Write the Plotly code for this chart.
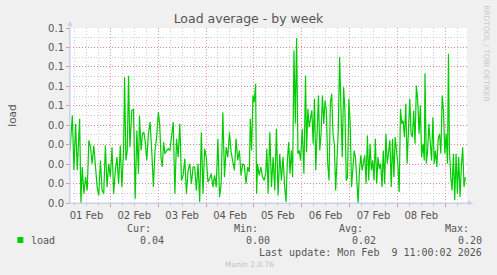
import pandas as pd
import plotly.graph_objects as go

# ---- data (minutes since 2026-02-01 00:00, load average) ----
minutes = [225, 295, 344, 394, 444, 514, 554, 593, 643, 693, 743, 793, 842, 892, 942, 992,
           1042, 1091, 1141, 1191, 1241, 1290, 1340, 1390, 1440, 1490, 1539, 1589, 1639, 1689,
           1739, 1788, 1838, 1868, 1908, 1948, 1988, 2027, 2087, 2137, 2187, 2237, 2286, 2316,
           2366, 2406, 2446, 2486, 2535, 2585, 2635, 2685, 2735, 2784, 2834, 2884, 2924, 2964,
           3003, 3043, 3083, 3133, 3183, 3232, 3282, 3332, 3382, 3432, 3481, 3531, 3581, 3631,
           3681, 3730, 3780, 3830, 3880, 3930, 3979, 4029, 4079, 4129, 4179, 4228, 4278, 4328,
           4378, 4428, 4477, 4527, 4577, 4627, 4677, 4726, 4776, 4826, 4876, 4925, 4975, 5025,
           5075, 5125, 5175, 5224, 5274, 5324, 5374, 5424, 5473, 5523, 5573, 5623, 5653, 5692,
           5732, 5772, 5812, 5842, 5872, 5921, 5971, 6021, 6071, 6121, 6150, 6190, 6240, 6290,
           6340, 6390, 6439, 6489, 6539, 6589, 6638, 6688, 6728, 6768, 6808, 6848, 6888, 6927,
           6967, 7007, 7047, 7087, 7126, 7166, 7216, 7266, 7316, 7346, 7385, 7425, 7465, 7505,
           7545, 7585, 7624, 7664, 7704, 7744, 7784, 7824, 7863, 7903, 7943, 7983, 8023, 8063,
           8102, 8142, 8182, 8222, 8262, 8302, 8341, 8381, 8421, 8461, 8501, 8541, 8580, 8620,
           8660, 8700, 8740, 8780, 8819, 8859, 8899, 8939, 8979, 9019, 9058, 9098, 9138, 9178,
           9218, 9258, 9297, 9337, 9377, 9417, 9457, 9497, 9536, 9576, 9616, 9656, 9696, 9736,
           9775, 9815, 9855, 9895, 9935, 9975, 10014, 10054, 10094, 10134, 10174, 10214, 10253,
           10293, 10333, 10373, 10413, 10453, 10493, 10532, 10572, 10612, 10652, 10692, 10732,
           10771, 10811, 10851, 10891, 10911, 10951, 10990, 11030, 11070, 11110, 11150, 11190,
           11229, 11269, 11309, 11349, 11389, 11429, 11468, 11508, 11548, 11588, 11618, 11648,
           11688, 11727, 11767, 11807, 11847, 11887, 11927, 11966, 12006, 12046, 12086, 12126]

load = [0.0270, 0.0450, 0.0168, 0.0407, 0.0168, 0.0433, 0.0000, 0.0185, 0.0048, 0.0133,
        0.0065, 0.0322, 0.0287, 0.0202, 0.0296, 0.0168, 0.0082, 0.0039, 0.0219, 0.0065,
        0.0048, 0.0296, 0.0082, 0.0202, 0.0133, 0.0287, 0.0048, 0.0168, 0.0236, 0.0099,
        0.0296, 0.0082, 0.0270, 0.0647, 0.0219, 0.0270, 0.0655, 0.0287, 0.0476, 0.0484,
        0.0022, 0.0373, 0.0151, 0.0450, 0.0270, 0.0356, 0.0364, 0.0322, 0.0219, 0.0356,
        0.0416, 0.0270, 0.0082, 0.0270, 0.0339, 0.0467, 0.0407, 0.0236, 0.0185, 0.0313,
        0.0253, 0.0270, 0.0279, 0.0270, 0.0356, 0.0416, 0.0048, 0.0330, 0.0236, 0.0407,
        0.0116, 0.0142, 0.0228, 0.0048, 0.0168, 0.0202, 0.0099, 0.0185, 0.0185, 0.0065,
        0.0202, 0.0005, 0.0364, 0.0048, 0.0279, 0.0236, 0.0108, 0.0125, 0.0151, 0.0082,
        0.0142, 0.0082, 0.0330, 0.0031, 0.0099, 0.0467, 0.0133, 0.0287, 0.0236, 0.0364,
        0.0262, 0.0202, 0.0168, 0.0330, 0.0219, 0.0270, 0.0142, 0.0202, 0.0193, 0.0099,
        0.0185, 0.0159, 0.0433, 0.0270, 0.0553, 0.0518, 0.0613, 0.0048, 0.0202, 0.0142,
        0.0185, 0.0133, 0.0116, 0.0159, 0.0279, 0.0048, 0.0364, 0.0082, 0.0236, 0.0065,
        0.0382, 0.0039, 0.0253, 0.0116, 0.0236, 0.0082, 0.0005, 0.0219, 0.0313, 0.0151,
        0.0270, 0.0133, 0.0784, 0.0407, 0.0849, 0.0253, 0.0270, 0.0219, 0.0382, 0.0151,
        0.0655, 0.0262, 0.0484, 0.0390, 0.0441, 0.0476, 0.0305, 0.0536, 0.0168, 0.0373,
        0.0553, 0.0270, 0.0356, 0.0553, 0.0407, 0.0527, 0.0476, 0.0202, 0.0116, 0.0518,
        0.0561, 0.0356, 0.0305, 0.0065, 0.0202, 0.0373, 0.0749, 0.0407, 0.0236, 0.0595,
        0.0476, 0.0116, 0.0133, 0.0536, 0.0407, 0.0082, 0.0168, 0.0270, 0.0236, 0.0116,
        0.0000, 0.0168, 0.0245, 0.0168, 0.0219, 0.0245, 0.0099, 0.0347, 0.0116, 0.0305,
        0.0168, 0.0219, 0.0116, 0.0330, 0.0099, 0.0236, 0.0176, 0.0202, 0.0082, 0.0270,
        0.0099, 0.0356, 0.0202, 0.0253, 0.0322, 0.0082, 0.0330, 0.0133, 0.0339, 0.0270,
        0.0202, 0.0056, 0.0484, 0.0407, 0.0424, 0.0339, 0.0510, 0.0202, 0.0390, 0.0536,
        0.0356, 0.0339, 0.0476, 0.0305, 0.0604, 0.0527, 0.0356, 0.0501, 0.0236, 0.0305,
        0.0219, 0.0667, 0.0202, 0.0270, 0.0407, 0.0305, 0.0219, 0.0441, 0.0202, 0.0270,
        0.0185, 0.0330, 0.0356, 0.0253, 0.0553, 0.0476, 0.0253, 0.0356, 0.0202, 0.0767,
        0.0270, 0.0133, 0.0065, 0.0253, 0.0014, 0.0253, 0.0048, 0.0236, 0.0031, 0.0185,
        0.0287, 0.0082, 0.0133]

y_ticks = [0.00, 0.01, 0.02, 0.03, 0.04, 0.05, 0.06, 0.07, 0.08, 0.09]
y_tick_text = ["0.0", "0.0", "0.0", "0.0", "0.0", "0.1", "0.1", "0.1", "0.1", "0.1"]

legend_headers = ["Cur:", "Min:", "Avg:", "Max:"]
legend_values = ["0.04", "0.00", "0.02", "0.20"]
series_name = "load"
last_update = "Last update: Mon Feb  9 11:00:02 2026"

base = pd.Timestamp("2026-02-01 00:00:00")
times = base + pd.to_timedelta(minutes, unit="min")

W, H = 497, 275
L, R, T, B = 67, 467, 28, 203


def px(x):
    return (x - L) / (R - L)


def py(y):
    return (B - y) / (B - T)


GREEN = "#00CC00"
TXT = "#555555"
MONO = "DejaVu Sans Mono"
SANS = "DejaVu Sans"
MAJ = "rgba(225,110,110,0.7)"
MIN = "rgba(170,170,170,0.55)"
DOTS = "1px,2px"

fig = go.Figure()
fig.add_trace(go.Scatter(x=times, y=load, mode="lines",
                         line=dict(color=GREEN, width=1.2), hoverinfo="skip",
                         showlegend=False))

fig.update_layout(
    width=W, height=H,
    margin=dict(l=L, r=W - R, t=T, b=H - B, pad=0),
    paper_bgcolor="#F0F0F0",
    plot_bgcolor="#FFFFFF",
    showlegend=False,
    title=dict(text="Load average - by week", x=0.5, xanchor="center",
               y=1 - 19 / H, yanchor="middle",
               font=dict(family=SANS, size=12.5, color=TXT)),
)

fig.update_xaxes(
    type="date",
    range=["2026-02-01 03:45", "2026-02-09 10:56"],
    tick0="2026-02-01 00:00", dtick=86400000,
    tickformat="%d %b", ticklabelmode="period",
    showgrid=True, gridcolor=MAJ, griddash=DOTS, gridwidth=1,
    ticks="outside", ticklen=3, tickcolor=MAJ,
    minor=dict(dtick=21600000, tick0="2026-02-01 00:00", showgrid=True,
               gridcolor=MIN, griddash=DOTS, ticks="outside", ticklen=2,
               tickcolor="#CCCCCC"),
    showline=True, linecolor="#C8D0F0", linewidth=1,
    tickfont=dict(family=SANS, size=10, color=TXT),
    zeroline=False, fixedrange=True,
)

fig.update_yaxes(
    range=[0, 0.09],
    tickvals=y_ticks, ticktext=y_tick_text,
    showgrid=True, gridcolor=MAJ, griddash=DOTS, gridwidth=1,
    ticks="outside", ticklen=3, tickcolor=MAJ,
    minor=dict(dtick=0.005, tick0=0, showgrid=True, gridcolor=MIN,
               griddash=DOTS, ticks=""),
    showline=True, linecolor="#C8D0F0", linewidth=1,
    tickfont=dict(family=SANS, size=10, color=TXT),
    title=dict(text="load", font=dict(family=SANS, size=10.5, color=TXT), standoff=29),
    zeroline=False, fixedrange=True,
)

ann = []
# axis arrows
ann.append(dict(xref="paper", yref="paper", x=px(67), y=py(21), ax=0, ay=183,
                axref="pixel", ayref="pixel", text="", showarrow=True,
                arrowhead=2, arrowsize=1, arrowwidth=1, arrowcolor="#C8D0F0"))
ann.append(dict(xref="paper", yref="paper", x=px(473), y=py(203), ax=-406, ay=0,
                axref="pixel", ayref="pixel", text="", showarrow=True,
                arrowhead=2, arrowsize=1, arrowwidth=1, arrowcolor="#C8D0F0"))
# rrdtool credit
ann.append(dict(xref="paper", yref="paper", x=px(487), y=py(54), text="RRDTOOL / TOBI OETIKER",
                textangle=90, showarrow=False, xanchor="center", yanchor="middle",
                font=dict(family=SANS, size=7.5, color="#C8C8C8")))
# legend block
header_right = [150, 257, 363, 470]
value_right = [163, 270, 376, 483]
for hx, htxt in zip(header_right, legend_headers):
    ann.append(dict(xref="paper", yref="paper", x=px(hx + 1), y=py(228), text=htxt,
                    showarrow=False, xanchor="right", yanchor="middle",
                    font=dict(family=MONO, size=10, color=TXT)))
for vx, vtxt in zip(value_right, legend_values):
    ann.append(dict(xref="paper", yref="paper", x=px(vx + 1), y=py(240), text=vtxt,
                    showarrow=False, xanchor="right", yanchor="middle",
                    font=dict(family=MONO, size=10, color=TXT)))
ann.append(dict(xref="paper", yref="paper", x=px(26), y=py(240), text=series_name,
                showarrow=False, xanchor="left", yanchor="middle",
                font=dict(family=MONO, size=10, color=TXT)))
ann.append(dict(xref="paper", yref="paper", x=px(484), y=py(252), text=last_update.replace("  ", "&nbsp; "),
                showarrow=False, xanchor="right", yanchor="middle",
                font=dict(family=MONO, size=10, color=TXT)))
ann.append(dict(xref="paper", yref="paper", x=px(248), y=py(264), text="Munin 2.0.76",
                showarrow=False, xanchor="center", yanchor="middle",
                font=dict(family=SANS, size=7.5, color="#C0C0C0")))
fig.update_layout(annotations=ann)

fig.add_shape(type="rect", xref="paper", yref="paper",
              x0=px(14), x1=px(20), y0=py(243), y1=py(237),
              fillcolor=GREEN, line=dict(width=0))

fig.write_html("out.html")
